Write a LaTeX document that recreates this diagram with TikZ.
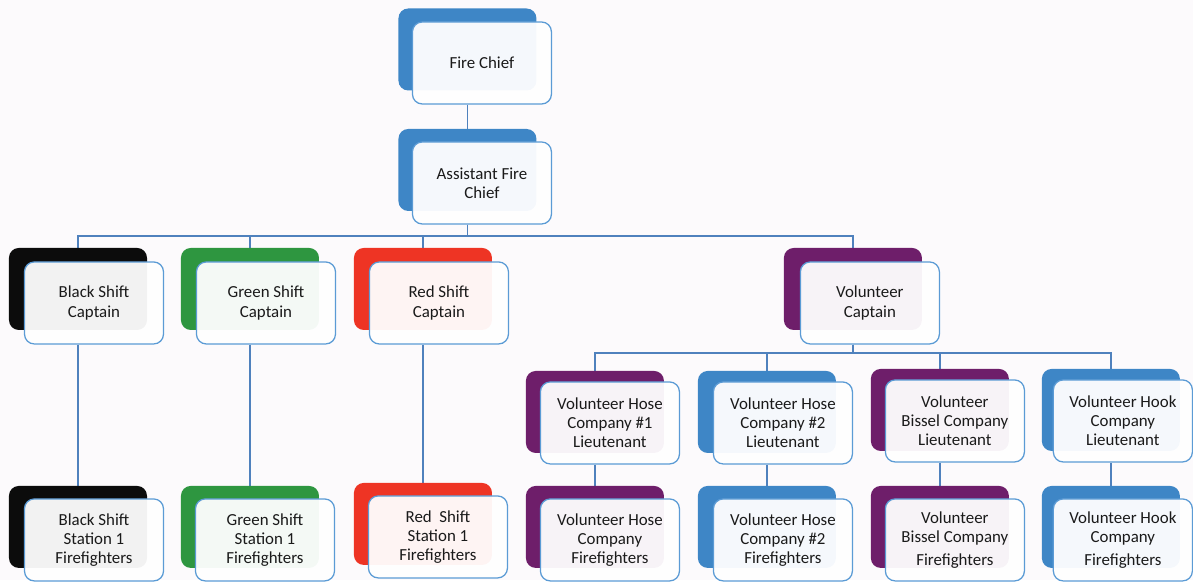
\documentclass[tikz,border=0pt]{standalone}
\usepackage{fontspec}
\setmainfont{Carlito}
\usepackage{tikz}
\usetikzlibrary{backgrounds}

\definecolor{pagebg}{HTML}{FCFAFC}
\definecolor{linkblue}{HTML}{4F81BD}
\definecolor{edgeblue}{HTML}{5B9BD5}
\definecolor{chiefblue}{HTML}{3E86C6}
\definecolor{shiftblack}{HTML}{0C0C0C}
\definecolor{shiftgreen}{HTML}{2E9640}
\definecolor{shiftred}{HTML}{EE3424}
\definecolor{volpurple}{HTML}{6E1E6A}
\definecolor{labelgrey}{HTML}{1A1A1A}

\tikzset{
  back/.style={rounded corners=7pt, fill=#1, minimum width=3.45cm, minimum height=2.05cm, inner sep=0pt},
  front/.style={rounded corners=7pt, draw=edgeblue, line width=0.9pt, fill=white, fill opacity=0.95, text opacity=1,
    minimum width=3.475cm, minimum height=2.05cm, inner sep=1pt, align=center, text=labelgrey,
    font=\fontsize{12}{13.6}\selectfont},
  link/.style={draw=linkblue, line width=1pt}
}

\begin{document}
\begin{tikzpicture}[x=0.025cm, y=-0.025cm]

        % top
        \node[back=chiefblue]    (chief-bg) at (467.5, 49.5) {};
        \node[front]             (chief)    at (482, 63)      {Fire Chief};
        \node[back=chiefblue]    (asst-bg)  at (467.5, 170)  {};
        \node[front]             (asst)     at (482, 183)     {Assistant Fire\\Chief};

        % captains
        \node[back=shiftblack]   (blackcap-bg) at (78, 289)   {};
        \node[front]             (blackcap)    at (94, 303)   {Black Shift\\Captain};
        \node[back=shiftgreen]   (greencap-bg) at (250, 289)  {};
        \node[front]             (greencap)    at (266, 303)  {Green Shift\\Captain};
        \node[back=shiftred]     (redcap-bg)   at (423, 289)  {};
        \node[front]             (redcap)      at (439, 303)  {Red Shift\\Captain};
        \node[back=volpurple]    (volcap-bg)   at (853, 289)  {};
        \node[front]             (volcap)      at (870, 303)  {Volunteer\\Captain};

        % station firefighters
        \node[back=shiftblack]   (blackff-bg) at (78, 527)    {};
        \node[front]             (blackff)    at (94, 540)    {Black Shift\\Station 1\\Firefighters};
        \node[back=shiftgreen]   (greenff-bg) at (250, 527)   {};
        \node[front]             (greenff)    at (265, 540)   {Green Shift\\Station 1\\Firefighters};
        \node[back=shiftred]     (redff-bg)   at (423, 524)   {};
        \node[front]             (redff)      at (438, 537)   {Red\ \ Shift\\Station 1\\Firefighters};

        % lieutenants
        \node[back=volpurple]    (hose1lt-bg)  at (595, 412)  {};
        \node[front]             (hose1lt)     at (610, 423)  {Volunteer Hose\\Company \#1\\Lieutenant};
        \node[back=chiefblue]    (hose2lt-bg)  at (767, 412)  {};
        \node[front]             (hose2lt)     at (783, 423)  {Volunteer Hose\\Company \#2\\Lieutenant};
        \node[back=volpurple]    (bissellt-bg) at (940, 410)  {};
        \node[front]             (bissellt)    at (955, 421)  {Volunteer\\Bissel Company\\Lieutenant};
        \node[back=chiefblue]    (hooklt-bg)   at (1111, 410) {};
        \node[front]             (hooklt)      at (1123, 421) {Volunteer Hook\\Company\\Lieutenant};

        % volunteer firefighters
        \node[back=volpurple]    (hose1ff-bg)  at (595, 527)  {};
        \node[front]             (hose1ff)     at (610, 540)  {Volunteer Hose\\Company\\Firefighters};
        \node[back=chiefblue]    (hose2ff-bg)  at (767, 527)  {};
        \node[front]             (hose2ff)     at (783, 540)  {Volunteer Hose\\Company \#2\\Firefighters};
        \node[back=volpurple]    (bisselff-bg) at (940, 527)  {};
        \node[front]             (bisselff)    at (955, 540)  {Volunteer\\Bissel Company\\[3pt]Firefighters};
        \node[back=chiefblue]    (hookff-bg)   at (1111, 527) {};
        \node[front]             (hookff)      at (1123, 540) {Volunteer Hook\\Company\\[3pt]Firefighters};

        \coordinate (bus1) at (0, 236);
        \coordinate (bus2) at (0, 353);

        \begin{scope}[on background layer]
          \fill[pagebg] (0,0) rectangle (1193,580);
          \draw[link] (chief-bg.center |- chief.south) -- (asst-bg.north);
          \foreach \n in {blackcap,greencap,redcap,volcap}
            \draw[link] (asst-bg.center |- asst.south) |- (\n-bg.north |- bus1) -- (\n-bg.north);
          \foreach \n in {hose1lt,hose2lt,bissellt,hooklt}
            \draw[link] (volcap-bg.center |- volcap.south) |- (\n-bg.north |- bus2) -- (\n-bg.north);
          \draw[link] (blackcap-bg.center |- blackcap.south) -- (blackff-bg.north);
          \draw[link] (greencap-bg.center |- greencap.south) -- (greenff-bg.north);
          \draw[link] (redcap-bg.center |- redcap.south) -- (redff-bg.north);
          \draw[link] (hose1lt-bg.center |- hose1lt.south) -- (hose1ff-bg.north);
          \draw[link] (hose2lt-bg.center |- hose2lt.south) -- (hose2ff-bg.north);
          \draw[link] (bissellt-bg.center |- bissellt.south) -- (bisselff-bg.north);
          \draw[link] (hooklt-bg.center |- hooklt.south) -- (hookff-bg.north);
        \end{scope}

        \useasboundingbox (0,0) rectangle (1193,580);
      \end{tikzpicture}
\end{document}
